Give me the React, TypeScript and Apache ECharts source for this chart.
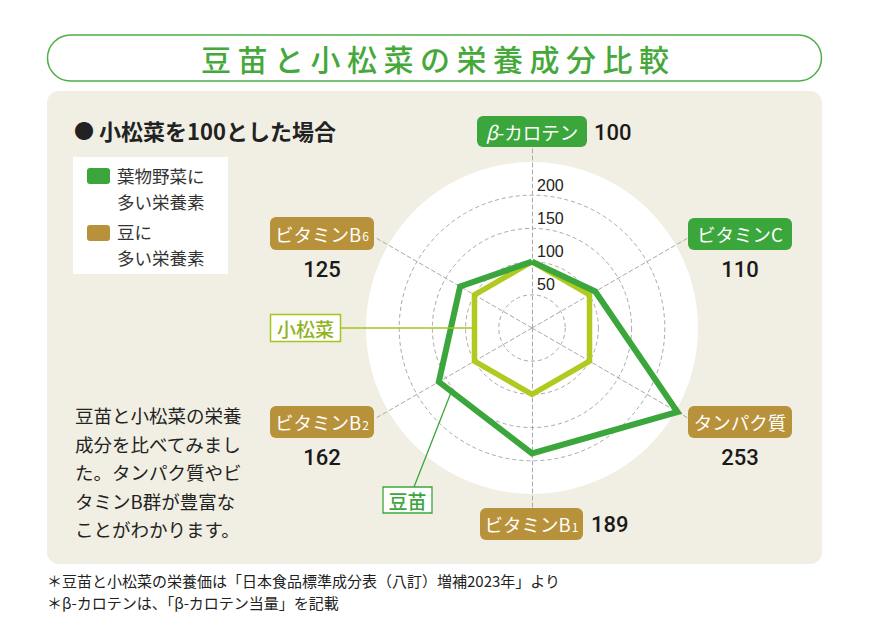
import React, { useEffect, useRef } from "react";
import * as echarts from "echarts";

// ---- data ----
const nutrients = ["β-カロテン", "ビタミンB6", "ビタミンB2", "ビタミンB1", "タンパク質", "ビタミンC"];
const doumyou = [100, 125, 162, 189, 253, 110]; // 豆苗
const komatsuna = [100, 100, 100, 100, 100, 100]; // 小松菜
const ticks = [50, 100, 150, 200];
const MAX = 250;

const titleText = "豆苗と小松菜の栄養成分比較";
const legendGreen = "葉物野菜に\n多い栄養素";
const legendGold = "豆に\n多い栄養素";
const descLines = [
  "豆苗と小松菜の栄養",
  "成分を比べてみまし",
  "た。タンパク質やビ",
  "タミンB群が豊富な",
  "ことがわかります。",
];
const notes = [
  "＊豆苗と小松菜の栄養価は「日本食品標準成分表（八訂）増補2023年」より",
  "＊β-カロテンは、「β-カロテン当量」を記載",
];

// ---- layout ----
const CX = 532;
const CY = 328;
const R = 166;
const SPOKE_R = 181;
const JP = '"Noto Sans CJK JP", "Noto Sans", sans-serif';
const NUM = 'Roboto, "Liberation Sans", Arial, sans-serif';
const TICKF = '"Liberation Sans", Arial, sans-serif';
const GREEN = "#3ba63b";
const GOLD = "#b8923a";
const LIME = "#b2ca20";

type LabelLayout = {
  box: [number, number, number, number];
  color: string;
  main: string;
  sub?: string;
  italicBeta?: boolean;
  val: [number, number];
  valAlign: "left" | "center";
};

// index-aligned with nutrients
const labelLayouts: LabelLayout[] = [
  { box: [477, 116, 110, 31], color: GREEN, main: "-カロテン", italicBeta: true, val: [594, 132], valAlign: "left" },
  { box: [270, 217, 104, 33], color: GOLD, main: "ビタミンB", sub: "6", val: [322, 269], valAlign: "center" },
  { box: [270, 406, 104, 32], color: GOLD, main: "ビタミンB", sub: "2", val: [322, 457], valAlign: "center" },
  { box: [480, 508, 103, 32], color: GOLD, main: "ビタミンB", sub: "1", val: [591, 524], valAlign: "left" },
  { box: [688, 406, 104, 32], color: GOLD, main: "タンパク質", val: [740, 457], valAlign: "center" },
  { box: [688, 218, 104, 32], color: GREEN, main: "ビタミンC", val: [740, 269], valAlign: "center" },
];

function txt(x: number, y: number, text: string, font: string, fill: string, align = "left", vAlign = "middle", z = 10, extra: any = {}): any {
  return {
    type: "text",
    x,
    y,
    z,
    style: { text, font, fill, align, verticalAlign: vAlign, textAlign: align, textVerticalAlign: vAlign, ...extra },
  };
}

function buildGraphic(): any[] {
  const els: any[] = [];
  // panel & title pill
  els.push({ type: "rect", z: -5, shape: { x: 47, y: 91, width: 775, height: 473, r: 12 }, style: { fill: "#f1efe3" } });
  els.push({
    type: "rect",
    z: -5,
    shape: { x: 47.5, y: 35, width: 774, height: 46, r: 23 },
    style: { fill: "#ffffff", stroke: "#4fae45", lineWidth: 1.5 },
  });
  Array.from(titleText).forEach((ch, i) => {
    els.push(txt(216 + i * 36.5, 58, ch, `500 30px ${JP}`, "#46a83b", "center"));
  });

  // heading
  els.push(txt(74, 130, "●", `20px ${JP}`, "#222222"));
  els.push(txt(99, 130, "小松菜を100とした場合", `bold 22px ${JP}`, "#222222"));

  // legend
  els.push({ type: "rect", z: 5, shape: { x: 73, y: 157, width: 155, height: 117 }, style: { fill: "#ffffff" } });
  els.push({ type: "rect", z: 6, shape: { x: 87, y: 168, width: 23, height: 16, r: 3 }, style: { fill: GREEN } });
  els.push({ type: "rect", z: 6, shape: { x: 87, y: 225, width: 23, height: 16, r: 3 }, style: { fill: GOLD } });
  els.push(txt(117, 188.5, legendGreen, `17.5px ${JP}`, "#333333", "left", "middle", 10, { lineHeight: 25.5 }));
  els.push(txt(117, 244.5, legendGold, `17.5px ${JP}`, "#333333", "left", "middle", 10, { lineHeight: 25.5 }));

  // description
  els.push(txt(75, 472, descLines.join("\n"), `18.5px ${JP}`, "#222222", "left", "middle", 10, { lineHeight: 28.5 }));

  // notes
  els.push(txt(47, 591, notes.join("\n"), `15px ${JP}`, "#222222", "left", "middle", 10, { lineHeight: 22 }));

  // tick labels along the top spoke (from scale)
  ticks.forEach((v) => {
    els.push(txt(537, CY - (v / MAX) * R - 2, String(v), `16px ${TICKF}`, "#222222", "left", "bottom"));
  });

  // indicator labels + values
  labelLayouts.forEach((L, i) => {
    const [bx, by, bw, bh] = L.box;
    els.push({ type: "rect", z: 10, shape: { x: bx, y: by, width: bw, height: bh, r: 6 }, style: { fill: L.color } });
    let text: string;
    const rich: any = {
      m: { fill: "#ffffff", fontSize: 18.5, fontFamily: JP },
      b: { fill: "#ffffff", fontSize: 19, fontFamily: JP, fontStyle: "italic" },
      s: { fill: "#ffffff", fontSize: 12, fontFamily: JP, verticalAlign: "bottom", padding: [0, 0, 1, 1] },
    };
    if (L.italicBeta) text = `{b|β}{m|${L.main}}`;
    else if (L.sub) text = `{m|${L.main}}{s|${L.sub}}`;
    else text = `{m|${L.main}}`;
    els.push({
      type: "text",
      z: 11,
      x: bx + bw / 2,
      y: by + bh / 2,
      style: {
        text,
        rich,
        fill: "#ffffff",
        font: `18.5px ${JP}`,
        align: "center",
        verticalAlign: "middle",
        textAlign: "center",
        textVerticalAlign: "middle",
      },
    });
    els.push(txt(L.val[0], L.val[1], String(doumyou[i]), `500 22px ${NUM}`, "#1a1a1a", L.valAlign));
  });

  // callouts
  els.push({ type: "line", z: 8, shape: { x1: 341, y1: 328, x2: 472, y2: 328 }, style: { stroke: "#a5c41f", lineWidth: 1.5 } });
  els.push({
    type: "rect",
    z: 10,
    shape: { x: 270.5, y: 314.5, width: 70, height: 27 },
    style: { fill: "#ffffff", stroke: "#a5c41f", lineWidth: 1.5 },
  });
  els.push(txt(305.5, 328.5, "小松菜", `500 19px ${JP}`, "#8fb31b", "center"));

  els.push({ type: "line", z: 8, shape: { x1: 414, y1: 487, x2: 452, y2: 390 }, style: { stroke: GREEN, lineWidth: 1.3 } });
  els.push({
    type: "rect",
    z: 10,
    shape: { x: 383, y: 487, width: 49, height: 26 },
    style: { fill: "#ffffff", stroke: GREEN, lineWidth: 1.3 },
  });
  els.push(txt(407.5, 500.5, "豆苗", `500 19px ${JP}`, GREEN, "center"));

  return els;
}

export default function App() {
  const ref = useRef<HTMLDivElement>(null);
  useEffect(() => {
    if (!ref.current) return;
    const chart = echarts.init(ref.current, undefined, { renderer: "svg" });
    const indicator = nutrients.map((n) => ({ name: n, min: 0, max: MAX }));
    chart.setOption({
      animation: false,
      backgroundColor: "#ffffff",
      radar: [
        {
          center: [CX, CY],
          radius: R,
          startAngle: 90,
          splitNumber: 5,
          shape: "circle",
          indicator,
          axisName: { show: false },
          axisLine: { show: false },
          splitLine: {
            show: true,
            lineStyle: {
              color: ["#a9a9a9", "#a9a9a9", "#a9a9a9", "#a9a9a9", "#a9a9a9", "rgba(0,0,0,0)"],
              type: [4, 3],
              width: 1,
            },
          },
          splitArea: { show: true, areaStyle: { color: ["#ffffff"] } },
        },
        {
          center: [CX, CY],
          radius: SPOKE_R,
          startAngle: 90,
          splitNumber: 1,
          shape: "circle",
          indicator,
          z: 1,
          axisName: { show: false },
          axisLine: { show: true, lineStyle: { color: "#a9a9a9", type: [4, 3], width: 1 } },
          splitLine: { show: false },
          splitArea: { show: false },
        },
      ],
      series: [
        {
          type: "radar",
          radarIndex: 0,
          z: 3,
          symbol: "none",
          data: [{ name: "小松菜", value: komatsuna, lineStyle: { color: LIME, width: 5.5, join: "miter" } }],
        },
        {
          type: "radar",
          radarIndex: 0,
          z: 4,
          symbol: "none",
          data: [{ name: "豆苗", value: doumyou, lineStyle: { color: GREEN, width: 6, join: "miter", miterLimit: 10 } }],
        },
      ],
      graphic: { elements: buildGraphic() },
    });
    return () => chart.dispose();
  }, []);
  return (
    <div
      ref={ref}
      style={{ position: "fixed", left: 0, top: 0, width: 870, height: 619, background: "#ffffff" }}
    />
  );
}
